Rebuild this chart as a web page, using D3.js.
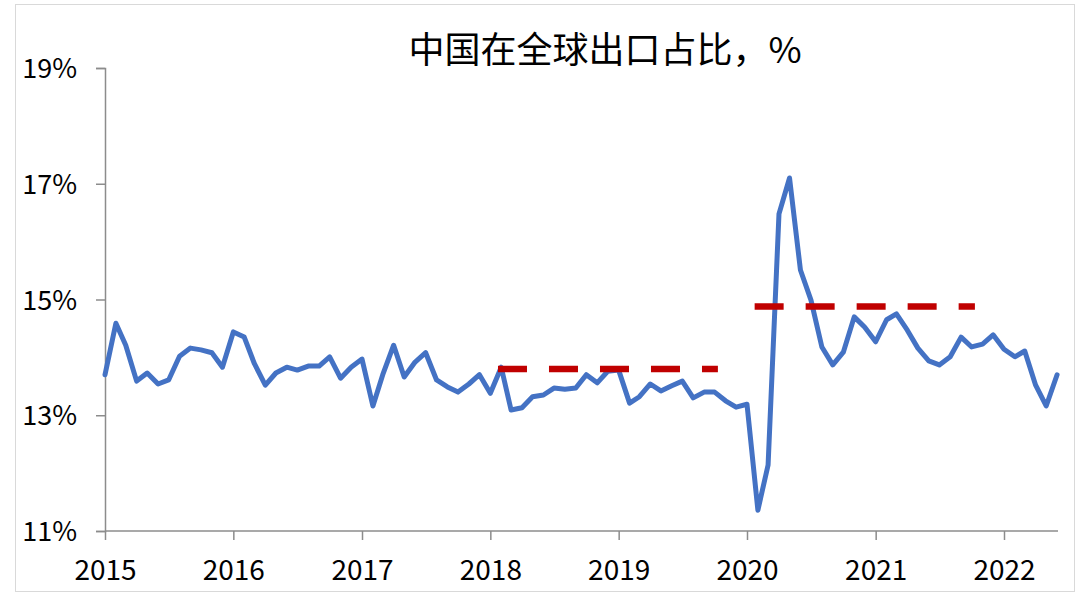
<!DOCTYPE html>
<html>
<head>
<meta charset="utf-8">
<script src="https://cdn.jsdelivr.net/npm/d3@7"></script>
<style>
  html, body { margin: 0; padding: 0; background: #fff; }
  svg { display: block; }
</style>
</head>
<body>
<svg id="chart" width="1080" height="602"></svg>
<script>
// ---- data ----
const title = "中国在全球出口占比，%";
const startMonth = "2015-01";
const shareValues = [
  13.70, 14.59, 14.21, 13.59, 13.73, 13.54, 13.61, 14.02, 14.16, 14.13, 14.08, 13.83, // 2015
  14.44, 14.35, 13.89, 13.52, 13.73, 13.83, 13.78, 13.85, 13.85, 14.01, 13.64, 13.83, // 2016
  13.97, 13.16, 13.70, 14.21, 13.66, 13.92, 14.08, 13.61, 13.49, 13.40, 13.54, 13.70, // 2017
  13.38, 13.83, 13.09, 13.13, 13.32, 13.35, 13.47, 13.45, 13.47, 13.70, 13.56, 13.76, // 2018
  13.78, 13.21, 13.32, 13.54, 13.42, 13.51, 13.59, 13.30, 13.40, 13.40, 13.25, 13.14, // 2019
  13.19, 11.36, 12.14, 16.48, 17.10, 15.51, 14.99, 14.18, 13.87, 14.09, 14.70, 14.52, // 2020
  14.27, 14.65, 14.75, 14.47, 14.16, 13.94, 13.87, 14.01, 14.35, 14.18, 14.23, 14.39, // 2021
  14.14, 14.01, 14.11, 13.52, 13.16, 13.70                                             // 2022
];
const avgStart = ["2018-02", "2020-02"];
const avgEnd = ["2019-10", "2021-10"];
const avgValues = [13.80, 14.88];
const yTicks = [11, 13, 15, 17, 19];
const xYears = [2015, 2016, 2017, 2018, 2019, 2020, 2021, 2022];

// ---- build ----
const parse = d3.timeParse("%Y-%m");
const t0 = parse(startMonth);
const series = shareValues.map((v, i) => ({ date: d3.timeMonth.offset(t0, i), value: v }));

const svg = d3.select("#chart");

const x = d3.scaleTime()
  .domain([new Date(2015, 0, 1), new Date(2022, 0, 1)])
  .range([105, 1004]);
const y = d3.scaleLinear().domain([11, 19]).range([531, 68]);

// chart border
svg.append("rect")
  .attr("x", 15.5).attr("y", 4.5).attr("width", 1059).attr("height", 587)
  .attr("fill", "none").attr("stroke", "#d9d9d9").attr("stroke-width", 1);

const font = "'Noto Sans CJK SC', 'Noto Sans', sans-serif";

// y axis
const yAxis = d3.axisLeft(y).tickValues(yTicks).tickSize(9).tickFormat(d => d + "%");
const gy = svg.append("g").attr("transform", "translate(105,0)").call(yAxis);
gy.select(".domain").attr("stroke", "#8c8c8c").attr("stroke-width", 1.5);
gy.selectAll(".tick line").attr("stroke", "#8c8c8c").attr("stroke-width", 1.5);
gy.selectAll(".tick text")
  .attr("x", -28).attr("dy", "0.36em")
  .style("font-family", font).style("font-size", "27px").attr("fill", "#000");

// x axis
const xAxis = d3.axisBottom(x).tickValues(xYears.map(yr => new Date(yr, 0, 1)))
  .tickSize(9).tickSizeOuter(0).tickFormat(d3.timeFormat("%Y"));
const gx = svg.append("g").attr("transform", "translate(0,531)").call(xAxis);
gx.select(".domain").attr("stroke", "#8c8c8c").attr("stroke-width", 1.5)
  .attr("d", `M105,0H1058`);
gx.selectAll(".tick line").attr("stroke", "#8c8c8c").attr("stroke-width", 1.5);
gx.selectAll(".tick text")
  .attr("y", 29).attr("dy", "0.71em")
  .style("font-family", font).style("font-size", "28px").attr("fill", "#000");

// main line
const line = d3.line().x(d => x(d.date)).y(d => y(d.value));
svg.append("path").datum(series)
  .attr("d", line)
  .attr("fill", "none").attr("stroke", "#4472C4").attr("stroke-width", 5)
  .attr("stroke-linejoin", "round").attr("stroke-linecap", "round");

// average dashed lines
avgValues.forEach((v, i) => {
  const seg = [
    { date: parse(avgStart[i]), value: v },
    { date: parse(avgEnd[i]), value: v }
  ];
  svg.append("path").datum(seg)
    .attr("d", line)
    .attr("fill", "none").attr("stroke", "#C00000").attr("stroke-width", 6.5)
    .attr("stroke-linecap", "square")
    .attr("stroke-dasharray", "22.5,28.5");
});

// title
svg.append("text")
  .attr("x", 605).attr("y", 50).attr("text-anchor", "middle").attr("dy", "0.35em")
  .style("font-family", font).style("font-size", "36px").attr("fill", "#000")
  .text(title);
</script>
</body>
</html>
